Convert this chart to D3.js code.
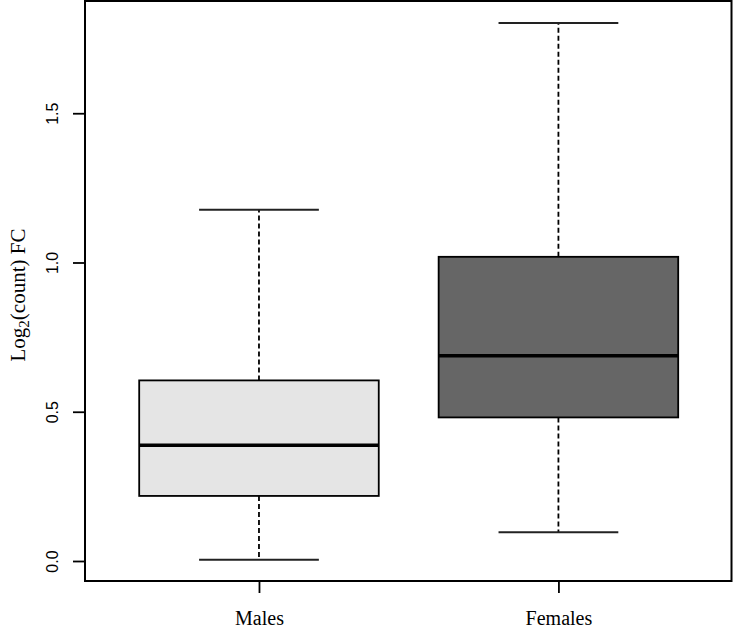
<!DOCTYPE html>
<html>
<head>
<meta charset="utf-8">
<script src="https://cdn.jsdelivr.net/npm/d3@7"></script>
<style>
  html, body { margin: 0; padding: 0; background: #fff; }
  svg { display: block; }
</style>
</head>
<body>
<svg id="chart" width="733" height="630"></svg>
<script>
const categories = ["Males", "Females"];
const lowerWhisker = [0.004, 0.096];
const q1 = [0.218, 0.481];
const median = [0.388, 0.688];
const q3 = [0.605, 1.019];
const upperWhisker = [1.177, 1.802];
const fills = ["#e5e5e5", "#666666"];
const yTicks = [0.0, 0.5, 1.0, 1.5];

(function () {
const svg = d3.select("#chart");
const pLeft = 85, pRight = 731.5, pTop = 1, pBottom = 581;

const x = d3.scaleLinear().domain([0.419, 2.578]).range([pLeft, pRight]);
const y = d3.scaleLinear().domain([-0.067, 1.876]).range([pBottom, pTop]);

const boxHalf = 0.4, capHalf = 0.2;
const data = categories.map((c, i) => ({
  c, i: i + 1, lo: lowerWhisker[i], q1: q1[i], med: median[i], q3: q3[i], hi: upperWhisker[i], fill: fills[i]
}));

const g = svg.append("g");
const box = g.selectAll("g.box").data(data).join("g").attr("class", "box");

// whiskers (dashed)
box.append("line")
  .attr("x1", d => x(d.i)).attr("x2", d => x(d.i))
  .attr("y1", d => y(d.q3)).attr("y2", d => y(d.hi))
  .attr("stroke", "#000").attr("stroke-width", 1.8).attr("stroke-dasharray", "5,3");
box.append("line")
  .attr("x1", d => x(d.i)).attr("x2", d => x(d.i))
  .attr("y1", d => y(d.q1)).attr("y2", d => y(d.lo))
  .attr("stroke", "#000").attr("stroke-width", 1.8).attr("stroke-dasharray", "5,3");
// caps
box.append("line")
  .attr("x1", d => x(d.i - capHalf)).attr("x2", d => x(d.i + capHalf))
  .attr("y1", d => y(d.hi)).attr("y2", d => y(d.hi))
  .attr("stroke", "#222").attr("stroke-width", 2);
box.append("line")
  .attr("x1", d => x(d.i - capHalf)).attr("x2", d => x(d.i + capHalf))
  .attr("y1", d => y(d.lo)).attr("y2", d => y(d.lo))
  .attr("stroke", "#222").attr("stroke-width", 2);
// boxes
box.append("rect")
  .attr("x", d => x(d.i - boxHalf)).attr("width", d => x(d.i + boxHalf) - x(d.i - boxHalf))
  .attr("y", d => y(d.q3)).attr("height", d => y(d.q1) - y(d.q3))
  .attr("fill", d => d.fill).attr("stroke", "#000").attr("stroke-width", 1.8);
// medians
box.append("line")
  .attr("x1", d => x(d.i - boxHalf)).attr("x2", d => x(d.i + boxHalf))
  .attr("y1", d => y(d.med)).attr("y2", d => y(d.med))
  .attr("stroke", "#000").attr("stroke-width", 3.5);

// plot border
svg.append("rect")
  .attr("x", pLeft).attr("y", pTop).attr("width", pRight - pLeft).attr("height", pBottom - pTop)
  .attr("fill", "none").attr("stroke", "#000").attr("stroke-width", 2);

// y axis
const yAxis = d3.axisLeft(y).tickValues(yTicks).tickSize(12).tickFormat(d3.format(".1f"));
const ya = svg.append("g").attr("transform", `translate(${pLeft},0)`).call(yAxis);
ya.select(".domain").remove();
ya.selectAll(".tick line").attr("stroke", "#000").attr("stroke-width", 1.8);
ya.selectAll(".tick text")
  .attr("x", 0).attr("dy", null).attr("y", 0)
  .attr("transform", "translate(-27,0) rotate(-90)")
  .attr("text-anchor", "middle")
  .attr("fill", "#000")
  .style("font-family", "'Liberation Sans', Arial, sans-serif")
  .style("font-size", "16px");

// x axis
const xAxis = d3.axisBottom(x).tickValues(data.map(d => d.i)).tickSize(12).tickFormat((d, i) => categories[i]);
const xa = svg.append("g").attr("transform", `translate(0,${pBottom})`).call(xAxis);
xa.select(".domain").remove();
xa.selectAll(".tick line").attr("stroke", "#000").attr("stroke-width", 1.8);
xa.selectAll(".tick text")
  .attr("y", 44).attr("dy", null)
  .attr("fill", "#000")
  .style("font-family", "'Liberation Serif', 'Times New Roman', serif")
  .style("font-size", "20px");

// y title
const t = svg.append("text")
  .attr("transform", `translate(25,${(pTop + pBottom) / 2 + 4}) rotate(-90)`)
  .attr("text-anchor", "middle")
  .style("font-family", "'Liberation Serif', 'Times New Roman', serif")
  .style("font-size", "21px")
  .attr("fill", "#000");
t.append("tspan").text("Log");
t.append("tspan").attr("baseline-shift", "-25%").style("font-size", "15px").text("2");
t.append("tspan").text("(count) FC");
})();
</script>
</body>
</html>
